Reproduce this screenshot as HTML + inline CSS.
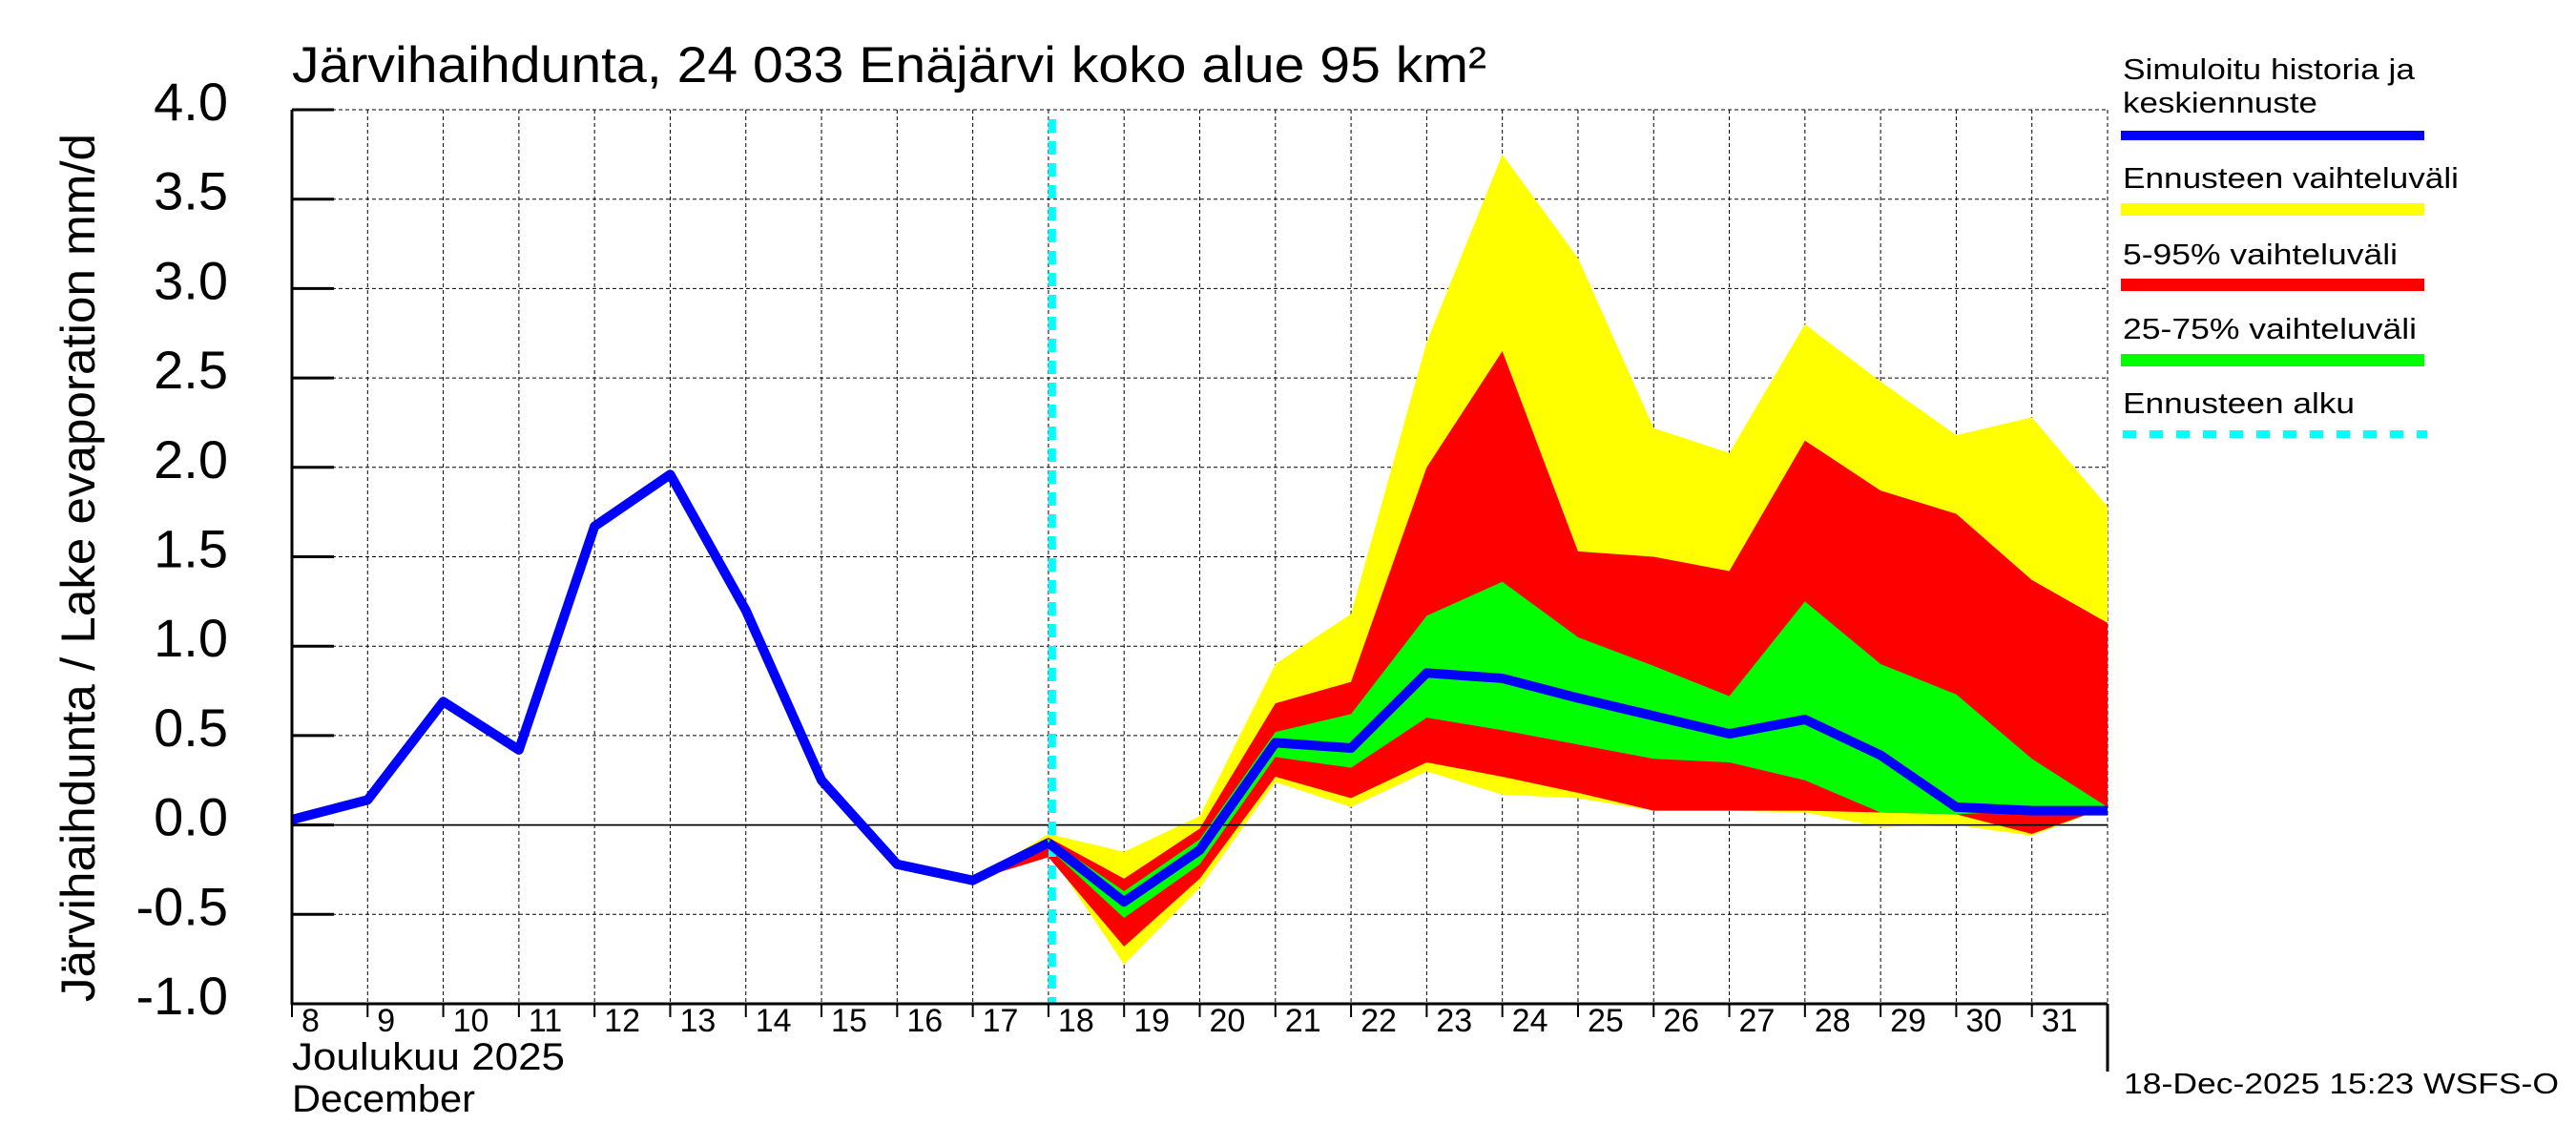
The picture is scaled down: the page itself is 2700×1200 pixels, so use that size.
<!DOCTYPE html>
<html><head><meta charset="utf-8"><style>
html,body{margin:0;padding:0;background:#fff;}
svg{display:block;font-family:"Liberation Sans",sans-serif;}
</style></head><body>
<svg id="chart" width="2700" height="1200" viewBox="0 0 2700 1200" xmlns="http://www.w3.org/2000/svg">
<rect width="2700" height="1200" fill="#fff"/>
<text x="306" y="86" font-size="53" textLength="1252" lengthAdjust="spacingAndGlyphs">Järvihaihdunta, 24 033 Enäjärvi koko alue 95 km²</text>
<g id="grid"></g>
<g id="bands"></g>
<g id="lines"></g>
<g id="axes"></g>
<g id="legend">
<text x="2225" y="83" font-size="31" textLength="306" lengthAdjust="spacingAndGlyphs">Simuloitu historia ja</text>
<text x="2225" y="118" font-size="31" textLength="204" lengthAdjust="spacingAndGlyphs">keskiennuste</text>
<rect x="2223" y="137" width="318" height="10" fill="#0000ff"/>
<text x="2225" y="197" font-size="31" textLength="352" lengthAdjust="spacingAndGlyphs">Ennusteen vaihteluväli</text>
<rect x="2223" y="213" width="318" height="13" fill="#ffff00"/>
<text x="2225" y="277" font-size="31" textLength="288" lengthAdjust="spacingAndGlyphs">5-95% vaihteluväli</text>
<rect x="2223" y="292" width="318" height="13" fill="#ff0000"/>
<text x="2225" y="355" font-size="31" textLength="308" lengthAdjust="spacingAndGlyphs">25-75% vaihteluväli</text>
<rect x="2223" y="371" width="318" height="13" fill="#00ff00"/>
<text x="2225" y="433" font-size="31" textLength="243" lengthAdjust="spacingAndGlyphs">Ennusteen alku</text>
<line x1="2225" y1="455" x2="2544" y2="455" stroke="#00ffff" stroke-width="8" stroke-dasharray="14,14"/>
</g>
<text x="2226" y="1146" font-size="31" textLength="456" lengthAdjust="spacingAndGlyphs">18-Dec-2025 15:23 WSFS-O</text>
<text x="306" y="1121" font-size="40" textLength="286" lengthAdjust="spacingAndGlyphs">Joulukuu  2025</text>
<text x="306" y="1165" font-size="40" textLength="192" lengthAdjust="spacingAndGlyphs">December</text>
<text transform="translate(99,595) rotate(-90)" text-anchor="middle" font-size="50" textLength="910" lengthAdjust="spacingAndGlyphs">Järvihaihdunta / Lake evaporation   mm/d</text>
</svg>
<script>
const days = [8,9,10,11,12,13,14,15,16,17,18,19,20,21,22,23,24,25,26,27,28,29,30,31,32];
const historyDays = [8,9,10,11,12,13,14,15,16,17,18];
const historyValues = [0.03,0.14,0.69,0.42,1.67,1.96,1.2,0.25,-0.22,-0.31,-0.1];
const forecastDays = [17,18,19,20,21,22,23,24,25,26,27,28,29,30,31,32];
const medianValues = [-0.31,-0.1,-0.43,-0.14,0.46,0.43,0.85,0.82,0.71,0.61,0.51,0.59,0.39,0.1,0.08,0.08];
const rangeMax = [-0.31,-0.05,-0.15,0.05,0.9,1.18,2.7,3.75,3.17,2.22,2.08,2.8,2.48,2.18,2.28,1.78];
const rangeMin = [-0.31,-0.15,-0.78,-0.35,0.24,0.1,0.3,0.17,0.15,0.08,0.08,0.07,-0.01,0.0,-0.06,0.1];
const p95 = [-0.31,-0.07,-0.3,-0.02,0.68,0.8,2.0,2.65,1.53,1.5,1.42,2.15,1.87,1.74,1.37,1.13];
const p5 = [-0.31,-0.18,-0.68,-0.3,0.27,0.15,0.35,0.27,0.18,0.08,0.08,0.08,0.07,0.06,-0.05,0.1];
const p75 = [-0.31,-0.08,-0.37,-0.08,0.52,0.62,1.17,1.36,1.05,0.89,0.72,1.25,0.9,0.73,0.37,0.1];
const p25 = [-0.31,-0.13,-0.52,-0.22,0.38,0.32,0.6,0.53,0.45,0.37,0.35,0.25,0.07,0.06,0.08,0.08];
const yTicks = [-1.0,-0.5,0.0,0.5,1.0,1.5,2.0,2.5,3.0,3.5,4.0];
const xTickLabels = ["8","9","10","11","12","13","14","15","16","17","18","19","20","21","22","23","24","25","26","27","28","29","30","31"];
const forecastStart = 18.05;

const NS = "http://www.w3.org/2000/svg";
const X0 = 306, X1 = 2209, Y0 = 1052, Y1 = 115, DMIN = 8, DMAX = 32, VMIN = -1, VMAX = 4;
function xs(d){ return X0 + (d - DMIN) / (DMAX - DMIN) * (X1 - X0); }
function ys(v){ return Y0 - (v - VMIN) / (VMAX - VMIN) * (Y0 - Y1); }
function mk(tag, attrs, parent){ const e = document.createElementNS(NS, tag); for (const k in attrs) e.setAttribute(k, attrs[k]); parent.appendChild(e); return e; }

const grid = document.getElementById('grid');
yTicks.forEach(v => {
  const l = mk('line', {x1:X0, x2:X1, y1:ys(v), y2:ys(v), stroke:'#000', 'stroke-width': v===0?1.5:1, 'stroke-dasharray': v===0?'none':'4,3'}, grid);
  
  
});
days.forEach(d => {
  if (d === DMIN) return;
  const l = mk('line', {x1:xs(d), x2:xs(d), y1:Y1, y2:Y0, stroke:'#000', 'stroke-width':1, 'stroke-dasharray':'4,3'}, grid);
  
  
});

const bands = document.getElementById('bands');
function band(hi, lo, color, name){
  let pts = forecastDays.map((d,i) => xs(d)+','+ys(hi[i]));
  for (let i = forecastDays.length-1; i >= 0; i--) pts.push(xs(forecastDays[i])+','+ys(lo[i]));
  const p = mk('polygon', {points: pts.join(' '), fill: color}, bands);
  
  
}
band(rangeMax, rangeMin, '#ffff00', 'forecast-range-band');
band(p95, p5, '#ff0000', 'band-5-95');
band(p75, p25, '#00ff00', 'band-25-75');

const lines = document.getElementById('lines');
const zl = mk('line', {x1:X0, x2:X1, y1:ys(0), y2:ys(0), stroke:'#000', 'stroke-width':1.5}, lines);


const fs = mk('line', {x1:xs(forecastStart), x2:xs(forecastStart), y1:Y1+10, y2:Y0, stroke:'#00ffff', 'stroke-width':8, 'stroke-dasharray':'14,9'}, lines);


const hl = mk('polyline', {points: historyDays.map((d,i)=>xs(d)+','+ys(historyValues[i])).join(' '), fill:'none', stroke:'#0000ff', 'stroke-width':10, 'stroke-linejoin':'round'}, lines);


const ml = mk('polyline', {points: forecastDays.slice(1).map((d,i)=>xs(d)+','+ys(medianValues[i+1])).join(' '), fill:'none', stroke:'#0000ff', 'stroke-width':10, 'stroke-linejoin':'round'}, lines);



const axes = document.getElementById('axes');
const ya = mk('line', {x1:X0, x2:X0, y1:Y1, y2:Y0+1, stroke:'#000', 'stroke-width':3}, axes);


const xa = mk('line', {x1:X0, x2:X1, y1:Y0, y2:Y0, stroke:'#000', 'stroke-width':3}, axes);


const re = mk('line', {x1:X1, x2:X1, y1:Y0, y2:1123, stroke:'#000', 'stroke-width':3}, axes);


yTicks.forEach(v => {
  const t = mk('line', {x1:X0, x2:X0+44, y1:ys(v), y2:ys(v), stroke:'#000', 'stroke-width':3}, axes);
  
  
  const lb = mk('text', {x:239, y:ys(v)+11, 'text-anchor':'end', 'font-size':56}, axes);
  lb.textContent = v.toFixed(1);
  
  
});
xTickLabels.forEach((s,i) => {
  const d = DMIN + i;
  const t = mk('line', {x1:xs(d), x2:xs(d), y1:Y0, y2:Y0+14, stroke:'#000', 'stroke-width':2}, axes);
  
  
  const lb = mk('text', {x:xs(d)+10, y:1081, 'font-size':34}, axes);
  lb.textContent = s;
  
  
});
</script>
</body></html>
